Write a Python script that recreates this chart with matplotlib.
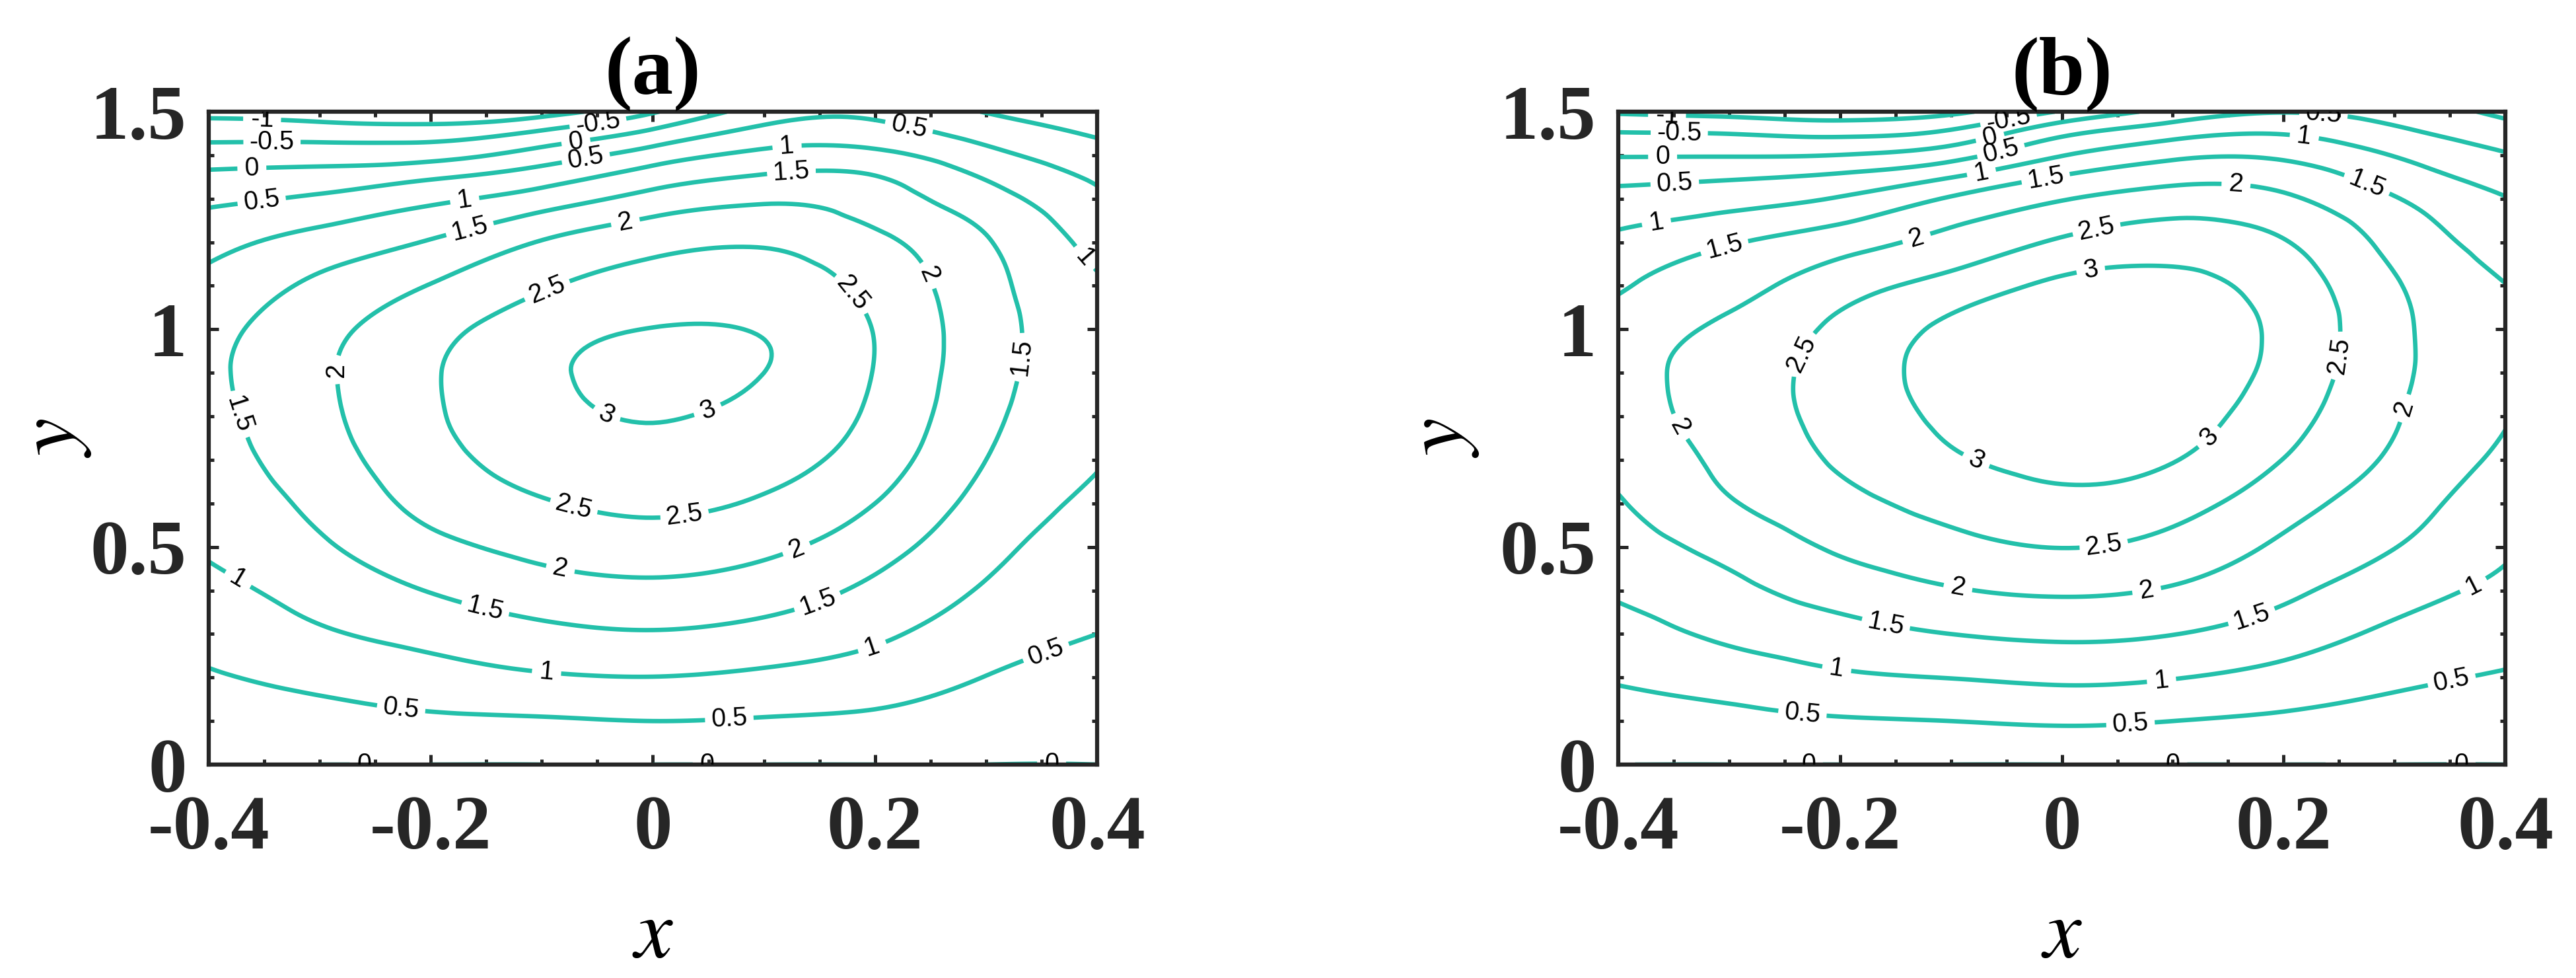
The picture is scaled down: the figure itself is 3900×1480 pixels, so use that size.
"""Two contour panels (a) and (b) of a stream-function-like field psi(x, y).

The field is kept as values read off the figure on a coarse grid; matplotlib's
cubic tri-interpolator smooths it before the contours are traced.
"""

import numpy as np
import matplotlib

matplotlib.use("Agg")
import matplotlib.pyplot as plt  # noqa: E402
import matplotlib.tri as mtri  # noqa: E402
from matplotlib.ticker import MultipleLocator  # noqa: E402

X_NODES = [-0.4, -0.3, -0.2, -0.1, 0.0, 0.1, 0.2, 0.3, 0.4]
Y_NODES = [0.0, 0.1, 0.2, 0.3, 0.4, 0.5, 0.6, 0.7, 0.8, 0.9, 1.0, 1.1, 1.2,
           1.3, 1.35, 1.4, 1.45, 1.5]

# panel (a): one list per x node, values from y=0 up to y=1.5
PSI_A = [
    [0, 0.23, 0.45, 0.66, 0.86, 1.06, 1.20, 1.29, 1.36, 1.40, 1.33, 1.14, 0.83, 0.40, 0.11, -0.25, -0.68, -1.14],
    [0, 0.32, 0.63, 0.94, 1.19, 1.43, 1.62, 1.78, 1.88, 1.92, 1.85, 1.60, 1.20, 0.58, 0.20, -0.22, -0.71, -1.25],
    [0, 0.41, 0.80, 1.16, 1.52, 1.86, 2.15, 2.33, 2.43, 2.45, 2.33, 2.02, 1.54, 0.89, 0.43, -0.17, -0.72, -1.42],
    [0, 0.45, 0.94, 1.37, 1.78, 2.14, 2.46, 2.70, 2.86, 2.92, 2.80, 2.45, 2.03, 1.23, 0.77, 0.22, -0.40, -1.22],
    [0, 0.50, 0.99, 1.46, 1.88, 2.27, 2.60, 2.85, 3.02, 3.10, 3.01, 2.72, 2.35, 1.68, 1.25, 0.74, 0.13, -0.55],
    [0, 0.46, 0.90, 1.34, 1.74, 2.11, 2.44, 2.68, 2.87, 3.00, 2.97, 2.75, 2.45, 1.92, 1.55, 1.13, 0.68, 0.22],
    [0, 0.40, 0.75, 1.09, 1.39, 1.70, 2.00, 2.25, 2.40, 2.48, 2.48, 2.35, 2.12, 1.74, 1.52, 1.13, 0.72, 0.38],
    [0, 0.24, 0.49, 0.72, 0.95, 1.14, 1.33, 1.50, 1.62, 1.69, 1.71, 1.66, 1.54, 1.20, 0.96, 0.65, 0.32, -0.02],
    [0, 0.17, 0.34, 0.50, 0.64, 0.77, 0.91, 1.03, 1.12, 1.17, 1.15, 1.06, 0.85, 0.59, 0.43, 0.19, -0.05, -0.33],
]

# panel (b)
PSI_B = [
    [0, 0.28, 0.55, 0.81, 1.06, 1.26, 1.46, 1.64, 1.77, 1.81, 1.70, 1.46, 1.13, 0.67, 0.35, -0.03, -0.47, -1.06],
    [0, 0.35, 0.73, 1.09, 1.37, 1.66, 1.96, 2.12, 2.22, 2.24, 2.12, 1.81, 1.46, 0.80, 0.44, -0.03, -0.51, -1.17],
    [0, 0.45, 0.92, 1.32, 1.71, 2.07, 2.35, 2.56, 2.67, 2.70, 2.60, 2.29, 1.79, 1.04, 0.59, 0.01, -0.60, -1.30],
    [0, 0.50, 1.01, 1.50, 1.96, 2.35, 2.67, 2.94, 3.10, 3.18, 3.10, 2.70, 2.16, 1.55, 0.98, 0.30, -0.38, -1.10],
    [0, 0.56, 1.09, 1.59, 2.07, 2.51, 2.87, 3.13, 3.30, 3.38, 3.30, 3.10, 2.57, 1.97, 1.54, 0.98, 0.40, -0.45],
    [0, 0.50, 1.02, 1.51, 1.95, 2.34, 2.69, 3.02, 3.20, 3.30, 3.27, 3.13, 2.77, 2.22, 1.84, 1.39, 0.83, 0.17],
    [0, 0.41, 0.83, 1.25, 1.61, 1.91, 2.20, 2.49, 2.70, 2.84, 2.88, 2.78, 2.53, 2.08, 1.78, 1.41, 0.98, 0.48],
    [0, 0.30, 0.60, 0.90, 1.21, 1.51, 1.71, 1.92, 2.04, 2.11, 2.12, 2.05, 1.85, 1.53, 1.27, 0.98, 0.63, 0.28],
    [0, 0.23, 0.46, 0.67, 0.89, 1.07, 1.23, 1.40, 1.53, 1.63, 1.62, 1.51, 1.27, 1.02, 0.79, 0.54, 0.22, -0.10],
]

LEVELS = [-1, -0.5, 0, 0.5, 1, 1.5, 2, 2.5, 3]
X_TICKS = [-0.4, -0.2, 0, 0.2, 0.4]
X_TICKLABELS = ["-0.4", "-0.2", "0", "0.2", "0.4"]
Y_TICKS = [0, 0.5, 1, 1.5]
Y_TICKLABELS = ["0", "0.5", "1", "1.5"]
PANEL_TITLES = ["(a)", "(b)"]

# where the inline labels sit in the original
LABELS_A = [(-0.352, 1.473), (-0.343, 1.42), (-0.049, 1.466), (-0.361, 1.362),
            (-0.069, 1.425), (-0.352, 1.289), (-0.06, 1.387), (0.23, 1.458),
            (-0.227, 0.122), (0.069, 0.095), (0.355, 0.251), (-0.169, 1.289),
            (0.121, 1.413), (0.389, 1.165), (-0.375, 0.42), (-0.096, 0.205),
            (0.198, 0.266), (-0.164, 1.222), (0.125, 1.351), (0.331, 0.936),
            (-0.378, 0.8), (-0.152, 0.348), (0.149, 0.368), (-0.024, 1.236),
            (0.246, 1.122), (-0.278, 0.907), (-0.084, 0.441), (0.131, 0.484),
            (-0.094, 1.082), (0.178, 1.079), (-0.072, 0.585), (0.029, 0.563),
            (-0.04, 0.814), (0.054, 0.782),
            (-0.23, 0.0), (0.063, 0.0), (0.359, 0.0)]
LABELS_B = [(-0.356, 1.493), (-0.345, 1.444), (-0.048, 1.481), (-0.36, 1.395),
            (-0.065, 1.443), (-0.349, 1.333), (-0.055, 1.41), (0.236, 1.497),
            (-0.234, 0.115), (0.062, 0.09), (0.352, 0.187), (-0.366, 1.252),
            (-0.072, 1.353), (0.219, 1.45), (-0.203, 0.22), (0.09, 0.19),
            (0.371, 0.412), (-0.304, 1.187), (-0.014, 1.339), (0.276, 1.339),
            (-0.159, 0.319), (0.172, 0.333), (-0.131, 1.209), (0.157, 1.331),
            (0.315, 0.814), (-0.338, 0.785), (-0.094, 0.402), (0.077, 0.392),
            (0.031, 1.234), (-0.232, 0.94), (0.256, 0.937), (0.038, 0.5),
            (0.026, 1.137), (-0.079, 0.689), (0.139, 0.736),
            (-0.229, 0.0), (0.066, 0.0), (0.36, 0.0)]

TEAL = "#23c0aa"
INK = "#262626"

plt.rcParams["font.family"] = ["Liberation Serif", "DejaVu Serif"]
plt.rcParams["mathtext.fontset"] = "stix"
plt.rcParams["axes.unicode_minus"] = False


def grid_triangulation(xs, ys):
    """Structured grid split into two triangles per cell."""
    nx, ny = len(xs), len(ys)
    gx, gy = np.meshgrid(xs, ys)
    tris = []
    for j in range(ny - 1):
        for i in range(nx - 1):
            p00 = j * nx + i
            p10 = p00 + 1
            p01 = p00 + nx
            p11 = p01 + 1
            tris.append([p00, p10, p11])
            tris.append([p00, p11, p01])
    return mtri.Triangulation(gx.ravel(), gy.ravel(), np.array(tris))


def panel(ax, psi, label_pos, title, ylab_x):
    tri = grid_triangulation(X_NODES, Y_NODES)
    z = np.array(psi, dtype=float).T.ravel()
    interp = mtri.CubicTriInterpolator(tri, z, kind="min_E")
    fine_tri, fine_z = mtri.UniformTriRefiner(tri).refine_field(
        z, triinterpolator=interp, subdiv=4)

    cs = ax.tricontour(fine_tri, fine_z, levels=LEVELS, colors=TEAL,
                       linewidths=1.6, linestyles="solid")
    texts = ax.clabel(cs, manual=label_pos, inline=True, inline_spacing=4,
                      fontsize=9.5, fmt=lambda v: f"{v:g}", colors="black")
    for t in texts:
        t.set_family(["Liberation Sans", "DejaVu Sans"])

    ax.set_xlim(-0.4, 0.4)
    ax.set_ylim(0, 1.5)
    ax.set_xticks(X_TICKS)
    ax.set_xticklabels(X_TICKLABELS)
    ax.set_yticks(Y_TICKS)
    ax.set_yticklabels(Y_TICKLABELS)
    ax.xaxis.set_minor_locator(MultipleLocator(0.05))
    ax.yaxis.set_minor_locator(MultipleLocator(0.1))
    ax.tick_params(which="both", direction="in", top=True, right=True,
                   colors=INK, width=1.2)
    ax.tick_params(which="major", length=3.6, labelsize=28)
    ax.tick_params(which="minor", length=2.0)
    ax.tick_params(axis="x", which="major", pad=11)
    ax.tick_params(axis="y", which="major", pad=8)
    for lab in ax.get_xticklabels() + ax.get_yticklabels():
        lab.set_fontweight("bold")
        lab.set_color(INK)
    for sp in ax.spines.values():
        sp.set_linewidth(1.5)
        sp.set_color(INK)

    ax.set_xlabel("$x$", fontsize=31, labelpad=12)
    ax.set_ylabel("$y$", fontsize=31)
    ax.yaxis.set_label_coords(ylab_x, 0.5)
    ax.set_title(title, fontsize=30, fontweight="bold", pad=4)


def main():
    fig = plt.figure(figsize=(13.0, 1480 / 300))
    ax_a = fig.add_axes([0.081, 0.2182, 0.3449, 0.6676])
    ax_b = fig.add_axes([0.6282, 0.2182, 0.3444, 0.6676])
    panel(ax_a, PSI_A, LABELS_A, PANEL_TITLES[0], -0.13)
    panel(ax_b, PSI_B, LABELS_B, PANEL_TITLES[1], -0.155)
    fig.savefig("out.png", dpi=300, facecolor="white")


if __name__ == "__main__":
    main()
